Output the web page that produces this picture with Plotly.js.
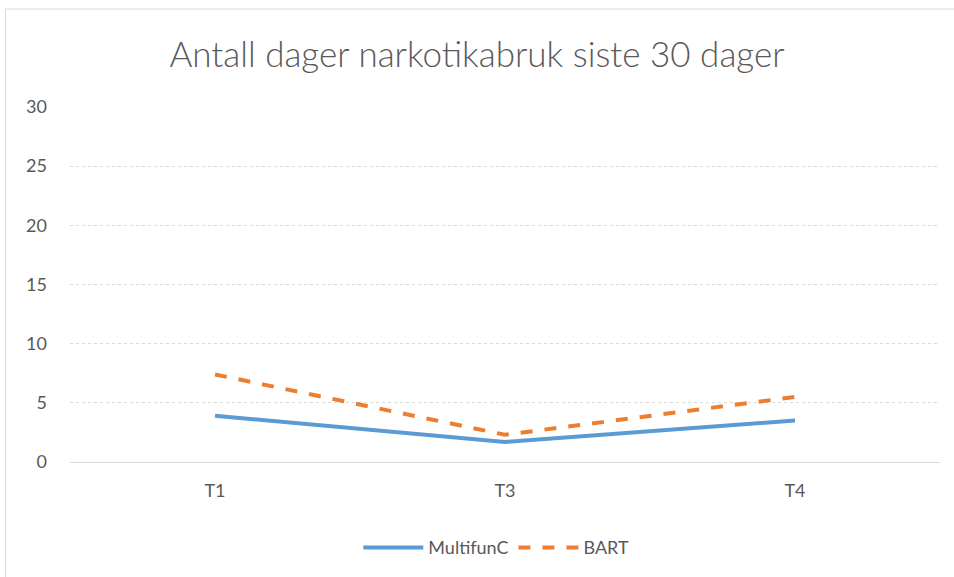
<!DOCTYPE html>
<html>
<head>
<meta charset="utf-8">
<script src="https://cdn.plot.ly/plotly-3.0.1.min.js"></script>
<style>html,body{margin:0;padding:0;background:#fff;}#chart{width:954px;height:577px;}</style>
</head>
<body>
<div id="chart"></div>
<script>
const categories = ["T1", "T3", "T4"];
const multifunC = [3.9, 1.7, 3.5];
const bart = [7.4, 2.3, 5.5];
const yTicks = [0, 5, 10, 15, 20, 25, 30];

const traces = [
  {x: categories, y: multifunC, name: "MultifunC", type: "scatter", mode: "lines",
   line: {color: "#5B9BD5", width: 4}},
  {x: categories, y: bart, name: "BART", type: "scatter", mode: "lines",
   line: {color: "#ED7D31", width: 4, dash: "dash"}}
];

const layout = {
  width: 954, height: 577,
  margin: {l: 70, r: 14, t: 107, b: 114},
  paper_bgcolor: "#fff", plot_bgcolor: "#fff",
  font: {family: "Lato, 'Open Sans', sans-serif", color: "#595959", size: 18},
  title: {text: "Antall dager narkotikabruk siste 30 dager", x: 0.5, xanchor: "center",
          y: 0.905, yanchor: "middle", font: {size: 35, weight: 300, color: "#595959", family: "Lato, 'Open Sans', sans-serif"}},
  xaxis: {type: "category", range: [-0.5, 2.5], showgrid: false, showline: false, zeroline: false,
          ticks: "", tickfont: {size: 18, color: "#595959"}, ticklabelstandoff: 16},
  yaxis: {range: [0, 30], tickvals: yTicks, ticktext: yTicks.map(String),
          showgrid: true, gridcolor: "#D9D9D9", gridwidth: 1, griddash: "dot",
          zeroline: true, zerolinecolor: "#D9D9D9", zerolinewidth: 1,
          showline: false, ticks: "", tickfont: {size: 18, color: "#595959"}, ticklabelstandoff: 22},
  showlegend: true,
  legend: {orientation: "h", x: 0.49, xanchor: "center", y: -0.238, yanchor: "middle",
           font: {size: 18, color: "#595959"}, itemwidth: 60, traceorder: "normal"},
  shapes: [
    {type: "rect", xref: "paper", yref: "paper", x0: -0.074, x1: 1.02, y0: -0.36, y1: 1.276,
     line: {color: "#D9D9D9", width: 1}, fillcolor: "rgba(0,0,0,0)", layer: "below"}
  ]
};

Plotly.newPlot("chart", traces, layout, {displayModeBar: false, staticPlot: true});
</script>
</body>
</html>
